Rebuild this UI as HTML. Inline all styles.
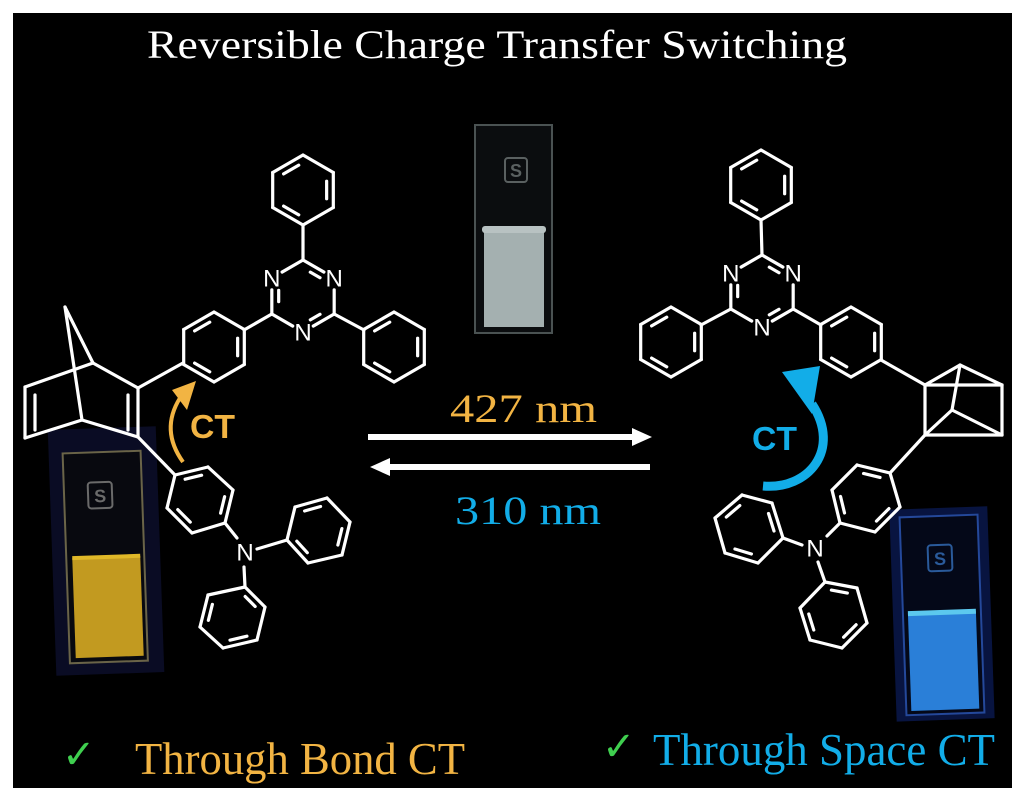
<!DOCTYPE html>
<html><head><meta charset="utf-8"><style>
html,body{margin:0;padding:0;background:#fff;}
svg{display:block}
</style></head><body>
<svg id="s" width="1024" height="810" viewBox="0 0 1024 810" xmlns="http://www.w3.org/2000/svg">
<rect x="0" y="0" width="1024" height="810" fill="#fff"/>
<rect x="13" y="13" width="999" height="775" fill="#000"/>
<text x="497" y="58" font-family="Liberation Serif, serif" font-size="40" fill="#fff" text-anchor="middle" textLength="700" lengthAdjust="spacingAndGlyphs">Reversible Charge Transfer Switching</text>

<!-- middle cuvette -->
<rect x="475" y="125" width="77" height="208" fill="#0b0d0f" stroke="#4a5252" stroke-width="2"/>
<rect x="484" y="230" width="60" height="97" fill="#a4b0b0"/>
<rect x="482" y="226" width="64" height="7" rx="3" fill="#b8c2c2"/>
<rect x="505" y="158" width="22" height="24" rx="3" fill="none" stroke="#5a6060" stroke-width="2"/>
<text x="516" y="177" font-family="Liberation Sans, sans-serif" font-weight="bold" font-size="18" fill="#5a6060" text-anchor="middle">S</text>

<!-- left cuvette -->
<g transform="rotate(-2 106 550)">
<rect x="52" y="428" width="108" height="246" fill="#0a0c24"/>
<rect x="66" y="452" width="78" height="210" fill="#08090f" stroke="#6a6448" stroke-width="2"/>
<rect x="72" y="557" width="68" height="100" fill="#c29a20"/>
<rect x="72" y="555" width="68" height="4" fill="#e0b828"/>
<rect x="90" y="482" width="24" height="26" rx="3" fill="none" stroke="#6a6a6a" stroke-width="2"/>
<text x="102" y="502" font-family="Liberation Sans, sans-serif" font-weight="bold" font-size="18" fill="#6a6a6a" text-anchor="middle">S</text>
</g>

<!-- right cuvette -->
<g transform="rotate(-2 940 615)">
<rect x="893" y="508" width="98" height="212" fill="#081440"/>
<rect x="903" y="516" width="78" height="198" fill="#040818" stroke="#24489a" stroke-width="2"/>
<rect x="908" y="612" width="68" height="98" fill="#2a7fd8"/>
<rect x="908" y="610" width="68" height="5" fill="#5cc8ee"/>
<rect x="930" y="545" width="24" height="26" rx="3" fill="none" stroke="#2a5a9a" stroke-width="2"/>
<text x="942" y="565" font-family="Liberation Sans, sans-serif" font-weight="bold" font-size="18" fill="#2a5a9a" text-anchor="middle">S</text>
</g>

<g id="mol" stroke="#fff" stroke-width="3.2" fill="none" stroke-linejoin="round" stroke-linecap="round"></g>
<g id="labels" font-family="Liberation Sans, sans-serif" font-size="24" fill="#fff" text-anchor="middle"></g>

<!-- orange CT arrow -->
<path d="M183,462 Q160,430 180,398" stroke="#f2b443" stroke-width="4" fill="none"/>
<polygon points="196,381 172,390 187,410" fill="#f2b443"/>
<text x="190" y="438" font-family="Liberation Sans, sans-serif" font-weight="bold" font-size="33" fill="#f2b443" textLength="45" lengthAdjust="spacingAndGlyphs">CT</text>

<!-- blue CT arrow -->
<path d="M763,486 C808,490 842,450 812,404" stroke="#12ade8" stroke-width="9" fill="none"/>
<polygon points="782,372 820,366 812,414" fill="#12ade8"/>
<text x="752" y="450" font-family="Liberation Sans, sans-serif" font-weight="bold" font-size="33" fill="#12ade8" textLength="45" lengthAdjust="spacingAndGlyphs">CT</text>

<!-- equilibrium arrows -->
<line x1="368" y1="437" x2="636" y2="437" stroke="#fff" stroke-width="6"/>
<polygon points="652,437 632,428 632,446" fill="#fff"/>
<line x1="386" y1="467" x2="650" y2="467" stroke="#fff" stroke-width="6"/>
<polygon points="370,467 390,458 390,476" fill="#fff"/>
<text x="450" y="422" font-family="Liberation Serif, serif" font-size="40" fill="#f2b443" textLength="147" lengthAdjust="spacingAndGlyphs">427 nm</text>
<text x="455" y="524" font-family="Liberation Serif, serif" font-size="40" fill="#12ade8" textLength="146" lengthAdjust="spacingAndGlyphs">310 nm</text>

<!-- bottom labels -->
<text x="62" y="768" font-family="DejaVu Sans, sans-serif" font-size="40" fill="#3fcf4f">✓</text>
<text x="135" y="774" font-family="Liberation Serif, serif" font-size="46" fill="#f2b443" textLength="330" lengthAdjust="spacingAndGlyphs">Through Bond CT</text>
<text x="602" y="760" font-family="DejaVu Sans, sans-serif" font-size="40" fill="#3fcf4f">✓</text>
<text x="653" y="765" font-family="Liberation Serif, serif" font-size="46" fill="#12ade8" textLength="342" lengthAdjust="spacingAndGlyphs">Through Space CT</text>
</svg>
<script>
var NS="http://www.w3.org/2000/svg",g=document.getElementById("mol"),lb=document.getElementById("labels");
function L(a,b,c,d){var e=document.createElementNS(NS,"line");e.setAttribute("x1",a);e.setAttribute("y1",b);e.setAttribute("x2",c);e.setAttribute("y2",d);g.appendChild(e);}
function ring(p,dbl,skipN){var cx=0,cy=0;p.forEach(function(q){cx+=q[0];cy+=q[1];});cx/=p.length;cy/=p.length;
 for(var i=0;i<p.length;i++){var a=p[i],b=p[(i+1)%p.length];
  var ax=a[0],ay=a[1],bx=b[0],by=b[1];
  if(skipN&&skipN.indexOf(i)>=0){ax=a[0]+(b[0]-a[0])*0.33;ay=a[1]+(b[1]-a[1])*0.33;}
  if(skipN&&skipN.indexOf((i+1)%p.length)>=0){bx=b[0]+(a[0]-b[0])*0.33;by=b[1]+(a[1]-b[1])*0.33;}
  L(ax,ay,bx,by);
  if(dbl.indexOf(i)>=0){var f=0.78;var a2=[cx+(a[0]-cx)*f,cy+(a[1]-cy)*f],b2=[cx+(b[0]-cx)*f,cy+(b[1]-cy)*f];
   var t=0.18;if(skipN){t=0.3;}L(a2[0]+(b2[0]-a2[0])*t,a2[1]+(b2[1]-a2[1])*t,b2[0]+(a2[0]-b2[0])*t,b2[1]+(a2[1]-b2[1])*t);}
 }}
function hex(cx,cy,r,dbl){var p=[];for(var i=0;i<6;i++){var a=-Math.PI/2+i*Math.PI/3;p.push([cx+r*Math.cos(a),cy+r*Math.sin(a)]);}ring(p,dbl);return p;}
function N(x,y){var t=document.createElementNS(NS,"text");t.setAttribute("x",x);t.setAttribute("y",y+8.5);t.textContent="N";lb.appendChild(t);}
function triaz(cx,cy){var r=36,p=[];for(var i=0;i<6;i++){var a=-Math.PI/2+i*Math.PI/3;p.push([cx+r*Math.cos(a),cy+r*Math.sin(a)]);}
 ring(p,[0,2,4],[1,3,5]);N(p[1][0],p[1][1]);N(p[3][0],p[3][1]);N(p[5][0],p[5][1]);return p;}
// LEFT molecule
hex(303,190,35,[1,3,5]); L(303,225,303,260);
var t=triaz(303,296);
hex(214,347,35,[1,3,5]); L(244,330,t[4][0],t[4][1]);
hex(394,347,35,[1,3,5]); L(364,330,t[2][0],t[2][1]);
// norbornadiene
L(65,307,93,363);L(65,307,82,420);L(93,363,138,388);L(138,388,138,437);L(128,395,128,430);
L(138,437,82,420);L(82,420,25,438);L(25,438,25,387);L(35,395,35,430);L(25,387,93,363);
L(138,388,183,363);L(138,437,175,475);
ring([[175,475],[208,467],[233,490],[225,523],[192,533],[167,508]],[0,2,4]);
L(225,523,237,538);N(245,552);L(257,549,287,540);L(244,567,245,587);
ring([[287,540],[295,507],[327,498],[350,522],[342,555],[308,563]],[1,3,5]);
ring([[245,587],[265,607],[257,640],[223,648],[200,627],[208,595]],[0,2,4]);
// RIGHT molecule
hex(761,185,35,[1,3,5]); L(761,220,762,255);
var u=triaz(762,291);
hex(671,342,35,[1,3,5]); L(701,325,u[4][0],u[4][1]);
hex(851,342,35,[1,3,5]); L(821,325,u[2][0],u[2][1]);
L(881,360,925,385);
// quadricyclane
var A=[925,385],B=[960,365],C=[1002,385],D=[1002,435],E=[952,410],F=[925,435];
[[A,B],[B,C],[A,C],[A,F],[C,D],[B,E],[E,D],[E,F],[F,D]].forEach(function(e){L(e[0][0],e[0][1],e[1][0],e[1][1]);});
L(925,435,890,473);
ring([[857,465],[890,473],[900,507],[875,532],[840,523],[832,490]],[0,2,4]);
L(840,523,827,536);N(815,548);L(802,545,783,538);L(818,562,825,582);
ring([[783,538],[772,503],[742,495],[715,518],[725,553],[758,563]],[0,2,4]);
ring([[825,582],[857,588],[867,623],[842,648],[810,640],[800,608]],[0,2,4]);
</script>
</body></html>
